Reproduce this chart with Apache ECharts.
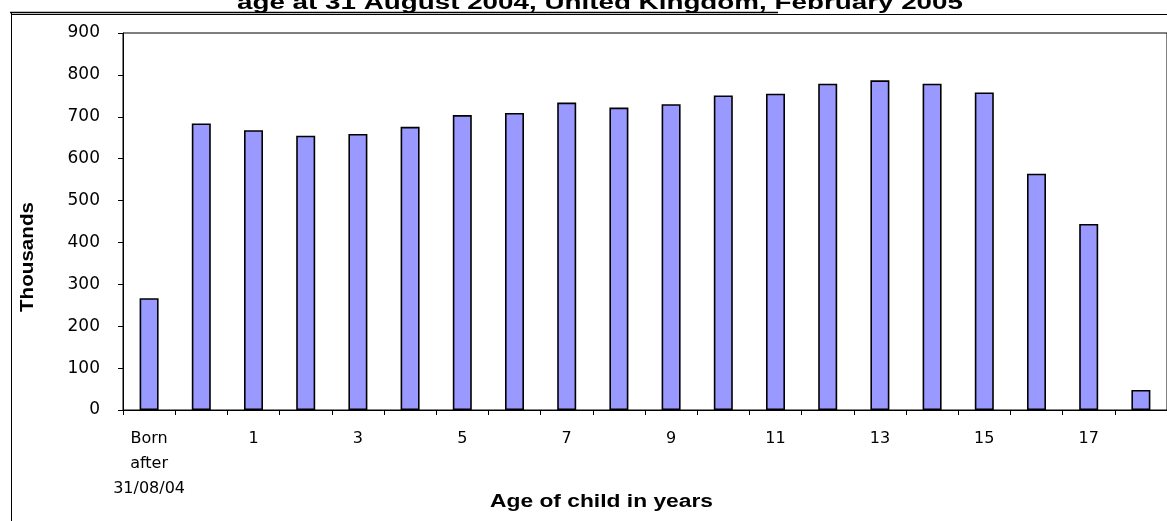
<!DOCTYPE html>
<html>
<head>
<meta charset="utf-8">
<script src="https://cdn.jsdelivr.net/npm/echarts@6/dist/echarts.min.js"></script>
<style>
html,body{margin:0;padding:0;background:#fff;}
#chart{width:1167px;height:521px;}
</style>
</head>
<body>
<div id="chart"></div>
<script>
var titleText = 'age at 31 August 2004, United Kingdom, February 2005';
var xAxisTitle = 'Age of child in years';
var yAxisTitle = 'Thousands';
var categories = ['Born\nafter\n31/08/04','0','1','2','3','4','5','6','7','8','9','10','11','12','13','14','15','16','17','18'];
var values = [267, 684, 668, 655, 659, 676, 704, 709, 734, 722, 730, 751, 755, 779, 787, 779, 758, 564, 444, 48];
var yTicks = [0, 100, 200, 300, 400, 500, 600, 700, 800, 900];

function measure(text, font) {
  var c = document.createElement('canvas').getContext('2d');
  c.font = font;
  return c.measureText(text).width;
}
var boldFont = '"Liberation Sans", Arial, sans-serif';
var tW = measure(titleText, 'bold 20px ' + boldFont);
var xW = measure(xAxisTitle, 'bold 18px ' + boldFont);
var yW = measure(yAxisTitle, 'bold 18px ' + boldFont);

var chart = echarts.init(document.getElementById('chart'), null, {renderer: 'canvas'});
chart.setOption({
  animation: false,
  backgroundColor: '#ffffff',
  grid: {
    show: true, borderColor: '#000', borderWidth: 1, backgroundColor: 'transparent',
    left: 123, top: 33, width: 1045, height: 377, containLabel: false
  },
  xAxis: {
    type: 'category',
    data: categories,
    axisLine: {show: true, lineStyle: {color: '#000', width: 1}},
    axisTick: {show: true, interval: 0, length: 5, lineStyle: {color: '#000'}},
    axisLabel: {
      interval: 1, margin: 16, color: '#000',
      fontFamily: '"DejaVu Sans", sans-serif', fontSize: 16, lineHeight: 25
    },
    splitLine: {show: false}
  },
  yAxis: {
    type: 'value',
    min: yTicks[0], max: yTicks[yTicks.length - 1], interval: 100,
    axisLine: {show: true, lineStyle: {color: '#000', width: 1}},
    axisTick: {show: true, length: 5, lineStyle: {color: '#000'}},
    axisLabel: {margin: 23, color: '#000', fontFamily: '"DejaVu Sans", sans-serif', fontSize: 17},
    splitLine: {show: false}
  },
  series: [{
    type: 'bar',
    data: values,
    barWidth: 19,
    itemStyle: {color: '#9999FF', borderColor: '#000', borderWidth: 1.6}
  }],
  graphic: [
    {type: 'line', shape: {x1: 10, y1: 12.5, x2: 778, y2: 12.5}, style: {stroke: '#000', lineWidth: 1.5}, z: 10},
    {type: 'line', shape: {x1: 11, y1: 14.5, x2: 1167, y2: 14.5}, style: {stroke: '#000', lineWidth: 1}, z: 10},
    {type: 'line', shape: {x1: 11.5, y1: 12, x2: 11.5, y2: 521}, style: {stroke: '#000', lineWidth: 1}, z: 10},
    {type: 'text', x: 600, y: 3, scaleX: 726 / tW,
      style: {text: titleText, font: 'bold 20px ' + boldFont, fill: '#000', align: 'center', verticalAlign: 'middle'}, z: 9},
    {type: 'text', x: 601.5, y: 502, scaleX: 223 / xW,
      style: {text: xAxisTitle, font: 'bold 18px ' + boldFont, fill: '#000', align: 'center', verticalAlign: 'middle'}, z: 10},
    {type: 'text', x: 28, y: 257, rotation: Math.PI / 2, scaleX: 110 / yW,
      style: {text: yAxisTitle, font: 'bold 18px ' + boldFont, fill: '#000', align: 'center', verticalAlign: 'middle'}, z: 10}
  ]
});
</script>
</body>
</html>
